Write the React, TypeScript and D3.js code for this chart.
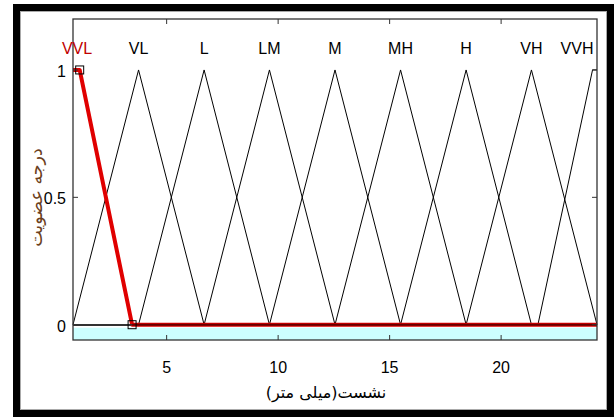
import React, { useEffect, useRef } from 'react';
import * as d3 from 'd3';

// membership functions (settlement, mm)
const mfNames = ['VVL', 'VL', 'L', 'LM', 'M', 'MH', 'H', 'VH', 'VVH'];
const mfParams: number[][] = [
  [0.8, 0.8, 1.1, 3.45],
  [0.8, 3.74, 6.68],
  [3.74, 6.68, 9.61],
  [6.68, 9.61, 12.55],
  [9.61, 12.55, 15.49],
  [12.55, 15.49, 18.43],
  [15.49, 18.43, 21.36],
  [18.43, 21.36, 24.3],
  [21.65, 24.1, 24.3, 24.3],
];
const selected = 0;
const xTicks = [5, 10, 15, 20];
const yTicks = [0, 0.5, 1];
const xDomain = [0.8, 24.3];
const yDomain = [-0.06, 1.2];
const xTitle = 'نشست(میلی متر)';
const yTitle = 'درجه عضویت';

const W = 614;
const H = 417;

// corner points of a tri/trap mf over whole range
const mfPoints = (p: number[]): [number, number][] => {
  const [lo, hi] = xDomain;
  const pts: [number, number][] = [];
  if (p[0] > lo) pts.push([lo, 0]);
  if (p[0] < p[1] || p[0] > lo) pts.push([p[0], 0]);
  if (p.length === 3) {
    pts.push([p[1], 1], [p[2], 0]);
  } else {
    pts.push([p[1], 1], [p[2], 1]);
    if (p[3] > p[2]) pts.push([p[3], 0]);
  }
  const last = pts[pts.length - 1];
  if (last[0] < hi) pts.push([hi, 0]);
  return pts;
};

const App = () => {
  const svgRef = useRef<SVGSVGElement>(null);

  useEffect(() => {
    const svg = d3.select(svgRef.current);
    svg.selectAll('*').remove();

    const margin = { top: 19, right: 17, bottom: 77, left: 73 };
    const x = d3.scaleLinear().domain(xDomain).range([margin.left, W - margin.right]);
    const y = d3.scaleLinear().domain(yDomain).range([H - margin.bottom, margin.top]);
    const [x0, x1] = x.range();
    const [yb, yt] = y.range();
    const font = 'Liberation Sans, Arial, sans-serif';

    svg.append('rect').attr('width', W).attr('height', H).attr('fill', '#fff');

    // outer frame
    svg.append('rect')
      .attr('x', 16.5).attr('y', 7.5).attr('width', 594).attr('height', 406)
      .attr('fill', 'none').attr('stroke', '#000').attr('stroke-width', 7);
    svg.append('rect')
      .attr('x', 20.5).attr('y', 11.5).attr('width', 586).attr('height', 398)
      .attr('fill', 'none').attr('stroke', '#aaa').attr('stroke-width', 1);

    // cyan strip under zero
    svg.append('rect')
      .attr('x', x0).attr('y', y(0) + 3).attr('width', x1 - x0).attr('height', yb - y(0) - 3)
      .attr('fill', '#ccffff');

    const line = d3.line<[number, number]>().x(d => x(d[0])).y(d => y(d[1]));

    mfParams.forEach((p, i) => {
      if (i === selected) return;
      svg.append('path')
        .attr('d', line(mfPoints(p)))
        .attr('fill', 'none').attr('stroke', '#000').attr('stroke-width', 1);
    });

    // selected mf in red
    const sp = mfParams[selected];
    svg.append('path')
      .attr('d', line(mfPoints(sp)))
      .attr('fill', 'none').attr('stroke', '#e00000').attr('stroke-width', 4)
      .attr('stroke-linejoin', 'round');
    svg.append('line')
      .attr('x1', x(sp[3])).attr('x2', x1).attr('y1', y(0)).attr('y2', y(0))
      .attr('stroke', '#600').attr('stroke-width', 2);
    svg.append('line')
      .attr('x1', x0).attr('x2', x(sp[3])).attr('y1', y(0)).attr('y2', y(0))
      .attr('stroke', '#333').attr('stroke-width', 1.5);

    // handles
    [[sp[2], 1], [sp[3], 0]].forEach(([a, b]) => {
      svg.append('rect')
        .attr('x', x(a) - 4).attr('y', y(b) - 4).attr('width', 8).attr('height', 8)
        .attr('fill', 'none').attr('stroke', '#000').attr('stroke-width', 1);
    });

    // axes box
    svg.append('rect')
      .attr('x', x0).attr('y', yt).attr('width', x1 - x0).attr('height', yb - yt)
      .attr('fill', 'none').attr('stroke', '#333').attr('stroke-width', 1.3);

    const tickLen = 5;
    xTicks.forEach(t => {
      svg.append('line').attr('x1', x(t)).attr('x2', x(t)).attr('y1', yb).attr('y2', yb - tickLen)
        .attr('stroke', '#333');
      svg.append('line').attr('x1', x(t)).attr('x2', x(t)).attr('y1', yt).attr('y2', yt + tickLen)
        .attr('stroke', '#333');
      svg.append('text').attr('x', x(t)).attr('y', 373)
        .attr('text-anchor', 'middle').attr('font-size', 16)
        .attr('font-family', font).text(t);
    });
    yTicks.forEach(t => {
      svg.append('line').attr('x1', x0).attr('x2', x0 + tickLen).attr('y1', y(t)).attr('y2', y(t))
        .attr('stroke', '#333');
      svg.append('line').attr('x1', x1).attr('x2', x1 - tickLen).attr('y1', y(t)).attr('y2', y(t))
        .attr('stroke', '#333');
      svg.append('text').attr('x', 66).attr('y', y(t) + 7)
        .attr('text-anchor', 'end').attr('font-size', 16)
        .attr('font-family', font).text(t);
    });

    // mf names
    mfParams.forEach((p, i) => {
      const c = p.length === 3 ? p[1] : (p[1] + p[2]) / 2;
      const cx = Math.min(x(c), x1 - 20);
      svg.append('text').attr('x', Math.max(cx, x0 + 4)).attr('y', 54)
        .attr('text-anchor', 'middle').attr('font-size', 16)
        .attr('font-family', font)
        .attr('fill', i === selected ? '#c00000' : '#000')
        .text(mfNames[i]);
    });

    // titles
    svg.append('text').attr('x', 326).attr('y', 398)
      .attr('text-anchor', 'middle').attr('font-size', 16)
      .attr('font-family', 'DejaVu Sans, sans-serif').attr('direction', 'rtl')
      .text(xTitle);
    svg.append('text')
      .attr('transform', `translate(42, ${(yt + yb) / 2 + 18}) rotate(-90)`)
      .attr('text-anchor', 'middle').attr('font-size', 17.5)
      .attr('font-family', 'DejaVu Sans, sans-serif').attr('direction', 'rtl')
      .attr('fill', '#6b4020')
      .text(yTitle);
  }, []);

  return (
    <svg ref={svgRef} width={W} height={H}
      style={{ position: 'absolute', left: 0, top: 0 }}></svg>
  );
};

export default App;
